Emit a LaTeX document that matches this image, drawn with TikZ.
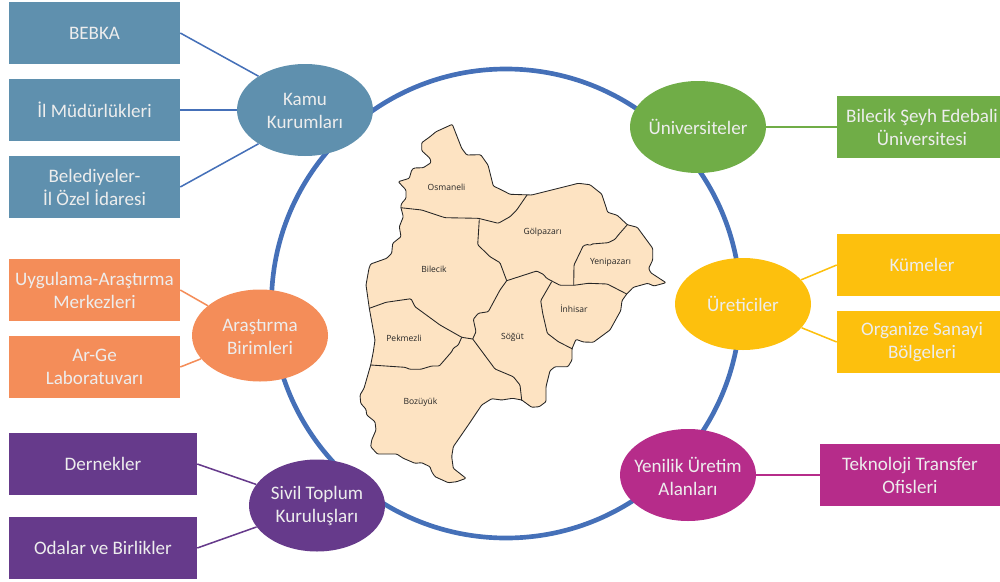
\documentclass[tikz,border=0pt]{standalone}
\usepackage{fontspec}
\setmainfont{Carlito}
\newfontfamily\mapfont{Open Sans}
\usetikzlibrary{shapes.geometric}
\definecolor{cblue}{HTML}{5F90AE}
\definecolor{cgreen}{HTML}{70AD47}
\definecolor{cyellow}{HTML}{FDC00D}
\definecolor{corange}{HTML}{F48D59}
\definecolor{cpurple}{HTML}{663A8B}
\definecolor{cmag}{HTML}{B62C8A}
\definecolor{cring}{HTML}{4570B8}
\definecolor{cmap}{HTML}{FDE3C2}
\newcommand{\lowerfirst}[1]{\rule{0pt}{#1pt}}
\tikzset{
  lbl/.style={text=white!93!black,align=center,font=\fontsize{14.3}{17.25}\selectfont,inner sep=0pt},
  boxn/.style={lbl,rectangle,fill=#1,minimum height=46.5pt},
  ell/.style={lbl,ellipse,fill=#1,minimum width=102pt,minimum height=69pt,inner xsep=-15pt},
  conn/.style={line width=1.15pt,draw=#1},
  border/.style={line width=0.65pt,draw=black!85,line join=round,rounded corners=0.8pt},
  maplbl/.style={font=\mapfont\fontsize{6.4}{7}\selectfont,text=black!85,inner sep=0pt}
}
\begin{document}
\begin{tikzpicture}[x=0.75pt,y=-0.75pt]
\useasboundingbox (0,0) rectangle (1000,582);
\clip (0,0) rectangle (1000,582);
% ring
\node[circle,draw=cring,line width=3.5pt,minimum size=351.75pt,inner sep=0pt] (ring) at (506,303.5) {};
% map
\fill[cmap] (452.3,124.3) -- (461.7,148.3) -- (466.7,155) -- (480.7,154.7) -- (488,165) -- (493.3,186) -- (501.7,190) -- (510,194.3) -- (531.7,195) -- (578.3,183.3) -- (590,184.7) -- (601.7,194) -- (607.7,212.3) -- (617.3,215.3) -- (627.3,224.7) -- (637.3,227.3) -- (652.7,248.3) -- (652.7,260) -- (648.7,268.3) -- (650.7,272.7) -- (666,282.7) -- (654,286) -- (647.7,283.3) -- (633.3,287.3) -- (626.7,294) -- (622,300.7) -- (620.7,310.7) -- (610,330) -- (593.3,342.3) -- (583.3,342) -- (576,339.3) -- (572,348.7) -- (572,360) -- (568,366.7) -- (555,366.7) -- (550,370.7) -- (546,386.7) -- (546,401.7) -- (539.3,406.7) -- (531.7,407.3) -- (521.7,400) -- (512.7,398.3) -- (501.7,400) -- (491.7,398.7) -- (481.7,405) -- (468.3,425) -- (453.3,446.7) -- (451.7,456.7) -- (453.3,468.3) -- (466,478.3) -- (456.7,481.7) -- (448.3,482.7) -- (435,476.7) -- (431.7,471.7) -- (430,466.7) -- (421.7,462.7) -- (415,463.3) -- (403.3,458.3) -- (396.7,454) -- (377.3,454) -- (370.7,446.7) -- (371.7,440) -- (376,430) -- (375,421.7) -- (366.7,415) -- (366,409.3) -- (360.7,403.3) -- (360,395) -- (364,388.3) -- (368.3,373.3) -- (370.7,365) -- (373.3,351.7) -- (375,340) -- (369.3,308.3) -- (366,285) -- (369,268.3) -- (370.7,264) -- (386.7,258.3) -- (391.7,253.3) -- (392.7,243.3) -- (401,236.7) -- (399.3,226.7) -- (403.3,216.7) -- (400.7,206.7) -- (401.7,203.3) -- (406,198.3) -- (406,190) -- (398.3,181.7) -- (409.3,178.3) -- (411.7,170) -- (414,168) -- (423.3,167.7) -- (431,162.7) -- (430,158.3) -- (421.7,150.7) -- (421.7,142.7) -- (430,136.7) -- (436,131.7) -- cycle;
\draw[border] (452.3,124.3) -- (461.7,148.3) -- (466.7,155) -- (480.7,154.7) -- (488,165) -- (493.3,186) -- (501.7,190) -- (510,194.3) -- (531.7,195) -- (578.3,183.3) -- (590,184.7) -- (601.7,194) -- (607.7,212.3) -- (617.3,215.3) -- (627.3,224.7) -- (637.3,227.3) -- (652.7,248.3) -- (652.7,260) -- (648.7,268.3) -- (650.7,272.7) -- (666,282.7) -- (654,286) -- (647.7,283.3) -- (633.3,287.3) -- (626.7,294) -- (622,300.7) -- (620.7,310.7) -- (610,330) -- (593.3,342.3) -- (583.3,342) -- (576,339.3) -- (572,348.7) -- (572,360) -- (568,366.7) -- (555,366.7) -- (550,370.7) -- (546,386.7) -- (546,401.7) -- (539.3,406.7) -- (531.7,407.3) -- (521.7,400) -- (512.7,398.3) -- (501.7,400) -- (491.7,398.7) -- (481.7,405) -- (468.3,425) -- (453.3,446.7) -- (451.7,456.7) -- (453.3,468.3) -- (466,478.3) -- (456.7,481.7) -- (448.3,482.7) -- (435,476.7) -- (431.7,471.7) -- (430,466.7) -- (421.7,462.7) -- (415,463.3) -- (403.3,458.3) -- (396.7,454) -- (377.3,454) -- (370.7,446.7) -- (371.7,440) -- (376,430) -- (375,421.7) -- (366.7,415) -- (366,409.3) -- (360.7,403.3) -- (360,395) -- (364,388.3) -- (368.3,373.3) -- (370.7,365) -- (373.3,351.7) -- (375,340) -- (369.3,308.3) -- (366,285) -- (369,268.3) -- (370.7,264) -- (386.7,258.3) -- (391.7,253.3) -- (392.7,243.3) -- (401,236.7) -- (399.3,226.7) -- (403.3,216.7) -- (400.7,206.7) -- (401.7,203.3) -- (406,198.3) -- (406,190) -- (398.3,181.7) -- (409.3,178.3) -- (411.7,170) -- (414,168) -- (423.3,167.7) -- (431,162.7) -- (430,158.3) -- (421.7,150.7) -- (421.7,142.7) -- (430,136.7) -- (436,131.7) -- cycle;
% inner borders
\draw[border] (400.7,207.7) -- (421.7,210) -- (445,217.7) -- (478.3,218.3) -- (498.3,223.3) -- (510,216.7) -- (516.7,210) -- (527,195);
\draw[border] (479.3,219.3) -- (477.7,244.7) -- (490,256.7) -- (500,262.7) -- (506.7,280.7);
\draw[border] (506.7,280.7) -- (536.7,271) -- (543.3,274.3) -- (546.7,278.3) -- (560,285.3) -- (574,285.3) -- (588.3,283.3) -- (607.3,284) -- (626.7,294);
\draw[border] (627.3,224.7) -- (618.3,235) -- (615,239.3) -- (608.3,242.7) -- (591.7,244) -- (590,245.7) -- (588.3,244.3) -- (583.3,245.7) -- (574,265) -- (573.7,285.3);
\draw[border] (551.7,281.7) -- (540.7,300.7) -- (542.7,313.3) -- (547.3,333.3) -- (558.3,341.7) -- (572,348.7);
\draw[border] (506.7,280.7) -- (500,290) -- (488.3,311.7) -- (478.3,313.3) -- (473.3,319.3) -- (476,331.7) -- (472.7,339);
\draw[border] (369.3,308.3) -- (386,302.3) -- (411,298.7) -- (415,306.7) -- (440,325) -- (461.7,337.3) -- (472.7,339);
\draw[border] (370.7,365) -- (405,367.3) -- (410,369.3) -- (420.7,369.3) -- (431.7,366) -- (439.3,366) -- (451.7,351.7) -- (453.3,348.3) -- (458.3,345) -- (461.7,337.3);
\draw[border] (472.7,339) -- (495,369) -- (513.3,376.7) -- (520,385) -- (521.7,400);
% map labels
\node[maplbl] (m1) at (446.5,187.5) {Osmaneli};
\node[maplbl] (m2) at (434,269) {Bilecik};
\node[maplbl] (m3) at (542.5,232) {Gölpazarı};
\node[maplbl] (m4) at (610.5,262) {Yenipazarı};
\node[maplbl] (m5) at (574,309) {İnhisar};
\node[maplbl] (m6) at (512.5,337) {Söğüt};
\node[maplbl] (m7) at (404,338.5) {Pekmezli};
\node[maplbl] (m8) at (420.5,402) {Bozüyük};
% ellipses
\node[ell=cblue] (kamu) at (305,110) {\lowerfirst{11}Kamu\\Kurumları};
\node[ell=cgreen] (univ) at (698,127) {Üniversiteler};
\node[ell=cyellow] (uret) at (743,304) {Üreticiler};
\node[ell=corange] (aras) at (260,335.5) {\lowerfirst{11}Araştırma\\Birimleri};
\node[ell=cpurple] (sivil) at (317,505.5) {\lowerfirst{11}Sivil Toplum\\Kuruluşları};
\node[ell=cmag] (yeni) at (688,475) {\lowerfirst{14}Yenilik Üretim\\Alanları};
% boxes
\node[boxn=cblue,minimum width=128.25pt] (bebka) at (94.5,33) {BEBKA};
\node[boxn=cblue,minimum width=128.25pt] (ilm) at (94.5,110) {İl Müdürlükleri};
\node[boxn=cblue,minimum width=128.25pt] (bel) at (94.5,187) {Belediyeler-\\İl Özel İdaresi};
\node[boxn=corange,minimum width=128.25pt] (uyg) at (94.5,290) {Uygulama-Araştırma\\Merkezleri};
\node[boxn=corange,minimum width=128.25pt] (arge) at (94.5,367) {Ar-Ge\\Laboratuvarı};
\node[boxn=cpurple,minimum width=141pt] (der) at (103,464) {Dernekler};
\node[boxn=cpurple,minimum width=141pt] (oda) at (103,548) {Odalar ve Birlikler};
\node[boxn=cgreen,minimum width=127.5pt] (bse) at (922,127) {Bilecik Şeyh Edebali\\Üniversitesi};
\node[boxn=cyellow,minimum width=127.5pt] (kum) at (922,265) {Kümeler};
\node[boxn=cyellow,minimum width=127.5pt] (osb) at (922,342) {Organize Sanayi\\Bölgeleri};
\node[boxn=cmag,minimum width=135pt] (tek) at (910,475) {Teknoloji Transfer\\Ofisleri};
% connectors
\draw[conn=cring] (bebka.east) -- (kamu.144);
\draw[conn=cring] (ilm.east) -- (kamu.west);
\draw[conn=cring] (bel.east) -- (kamu.216);
\draw[conn=corange] (uyg.east) -- (aras);
\draw[conn=corange] (arge.east) -- (aras);
\draw[conn=cpurple] (der.east) -- (sivil);
\draw[conn=cpurple] (oda.east) -- (sivil);
\draw[conn=cgreen] (bse.west) -- (univ.east);
\draw[conn=cyellow] (kum.west) -- (uret);
\draw[conn=cyellow] (osb.west) -- (uret);
\draw[conn=cmag] (tek.west) -- (yeni.east);
\end{tikzpicture}
\end{document}
